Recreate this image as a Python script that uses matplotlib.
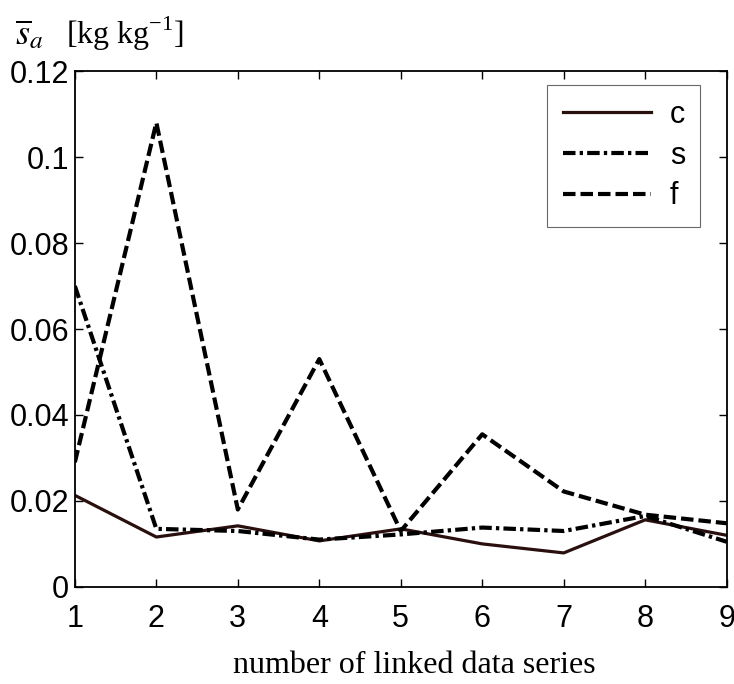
import matplotlib
matplotlib.use('Agg')
import matplotlib.pyplot as pyplot

n_series = [1, 2, 3, 4, 5, 6, 7, 8, 9]
c_vals = [0.0213, 0.0116, 0.0142, 0.0107, 0.0135, 0.0100, 0.0079, 0.0156, 0.0120]
s_vals = [0.0700, 0.0135, 0.0130, 0.0110, 0.0122, 0.0138, 0.0130, 0.0165, 0.0105]
f_vals = [0.0290, 0.1080, 0.0180, 0.0530, 0.0130, 0.0355, 0.0222, 0.0168, 0.0148]
yticks = [0, 0.02, 0.04, 0.06, 0.08, 0.1, 0.12]
ytick_labels = ['0', '0.02', '0.04', '0.06', '0.08', '0.1', '0.12']

pyplot.rcParams['font.family'] = 'Liberation Sans'

fig = pyplot.figure()
fig.set_size_inches(7.34, 6.84)
ax = fig.add_axes([0.102, 0.142, 0.888, 0.754])

ax.plot(n_series, c_vals, color='#2a0f0f', lw=2.3, linestyle='-', label='c')
ax.plot(n_series, s_vals, color='black', lw=3.0, linestyle=(0, (3.0, 1.0, 0.8, 1.0)), label='s')
ax.plot(n_series, f_vals, color='black', lw=3.0, linestyle=(0, (3.0, 1.2)), label='f')

ax.set_xlim(1, 9)
ax.set_ylim(0, 0.12)
ax.set_xticks(n_series)
ax.set_yticks(yticks)
ax.set_yticklabels(ytick_labels)
ax.tick_params(direction='in', top=True, right=True, labelsize=22, length=6, width=1)
ax.tick_params(axis='x', pad=12)
ax.tick_params(axis='y', pad=4)
for sp in ax.spines.values():
	sp.set_linewidth(1.3)

leg = ax.legend(loc='upper right', bbox_to_anchor=(0.954, 0.876), bbox_transform=fig.transFigure,
	borderaxespad=0, fontsize=22, handlelength=2.9, frameon=True, fancybox=False,
	edgecolor='#444444', borderpad=0.5, labelspacing=0.35, handletextpad=0.6)
leg.get_frame().set_linewidth(0.8)

fig.text(0.020, 0.935, r'$\overline{s}_a$', fontsize=26, family='Liberation Serif',
	math_fontfamily='stix', va='baseline')
fig.text(0.090, 0.935, r'[kg kg$^{\mathregular{-1}}$]', fontsize=23, family='Liberation Serif', va='baseline')
fig.text(0.565, 0.016, 'number of linked data series', fontsize=23, family='Liberation Serif', ha='center')

fig.savefig('out.png', dpi=100)
